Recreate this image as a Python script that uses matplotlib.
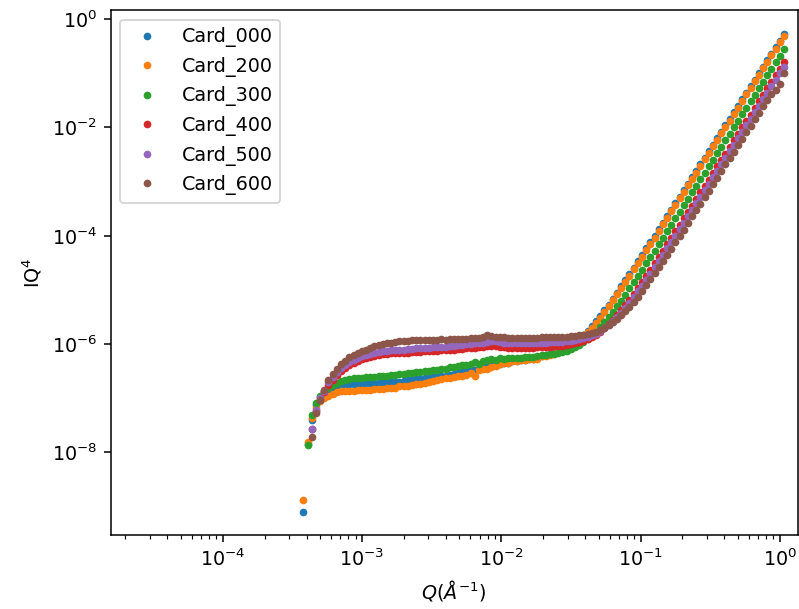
import numpy as np
import matplotlib
matplotlib.use("Agg")
import matplotlib.pyplot as plt

nan = np.nan

# scattering vector Q (1/Angstrom), shared by all cards
q = [3.80e-4, 4.07e-4, 4.37e-4, 4.68e-4, 5.01e-4, 5.37e-4, 5.75e-4, 6.17e-4, 6.61e-4, 7.08e-4,
     7.59e-4, 8.13e-4, 8.71e-4, 9.33e-4, 1.00e-3, 1.07e-3, 1.15e-3, 1.23e-3, 1.32e-3, 1.41e-3,
     1.51e-3, 1.62e-3, 1.74e-3, 1.86e-3, 2.00e-3, 2.14e-3, 2.29e-3, 2.45e-3, 2.63e-3, 2.82e-3,
     3.02e-3, 3.24e-3, 3.47e-3, 3.72e-3, 3.98e-3, 4.27e-3, 4.57e-3, 4.90e-3, 5.25e-3, 5.62e-3,
     6.03e-3, 6.46e-3, 6.92e-3, 7.41e-3, 7.94e-3, 8.51e-3, 9.12e-3, 9.77e-3, 1.05e-2, 1.12e-2,
     1.20e-2, 1.29e-2, 1.38e-2, 1.48e-2, 1.58e-2, 1.70e-2, 1.82e-2, 1.95e-2, 2.09e-2, 2.24e-2,
     2.40e-2, 2.57e-2, 2.75e-2, 2.95e-2, 3.16e-2, 3.39e-2, 3.63e-2, 3.89e-2, 4.17e-2, 4.47e-2,
     4.79e-2, 5.13e-2, 5.50e-2, 5.89e-2, 6.31e-2, 6.76e-2, 7.24e-2, 7.76e-2, 8.32e-2, 8.91e-2,
     9.55e-2, 1.02e-1, 1.10e-1, 1.17e-1, 1.26e-1, 1.35e-1, 1.45e-1, 1.55e-1, 1.66e-1, 1.78e-1,
     1.91e-1, 2.04e-1, 2.19e-1, 2.34e-1, 2.51e-1, 2.69e-1, 2.88e-1, 3.09e-1, 3.31e-1, 3.55e-1,
     3.80e-1, 4.07e-1, 4.37e-1, 4.68e-1, 5.01e-1, 5.37e-1, 5.75e-1, 6.17e-1, 6.61e-1, 7.08e-1,
     7.59e-1, 8.13e-1, 8.71e-1, 9.33e-1, 1.00, 1.07]

# I*Q^4 for each card
card_000 = [8.13e-10, 1.41e-8, 3.98e-8, 7.59e-8, 1.05e-7, 1.26e-7, 1.45e-7, 1.58e-7, 1.66e-7, 1.74e-7,
            1.78e-7, 1.82e-7, 1.82e-7, 1.86e-7, 1.86e-7, 1.91e-7, 1.91e-7, 1.95e-7, 1.95e-7, 2.00e-7,
            2.00e-7, 2.00e-7, 2.04e-7, 2.04e-7, 2.09e-7, 2.14e-7, 2.19e-7, 2.24e-7, 2.29e-7, 2.34e-7,
            2.40e-7, 2.45e-7, 2.51e-7, 2.57e-7, 2.63e-7, 2.75e-7, 2.82e-7, 2.95e-7, 3.02e-7, 3.16e-7,
            3.31e-7, 3.39e-7, 3.55e-7, 3.72e-7, 3.89e-7, 3.98e-7, 4.17e-7, 4.37e-7, 4.47e-7, 4.57e-7,
            4.79e-7, 4.90e-7, 5.01e-7, 5.13e-7, 5.25e-7, 5.37e-7, 5.50e-7, 6.08e-7, 6.26e-7, 6.51e-7,
            6.82e-7, 7.25e-7, 7.80e-7, 8.53e-7, 9.50e-7, 1.08e-6, 1.25e-6, 1.47e-6, 1.76e-6, 2.14e-6,
            2.65e-6, 3.32e-6, 4.20e-6, 5.36e-6, 6.89e-6, 8.91e-6, 1.16e-5, 1.51e-5, 1.97e-5, 2.58e-5,
            3.38e-5, 4.44e-5, 5.84e-5, 7.68e-5, 1.01e-4, 1.33e-4, 1.75e-4, 2.30e-4, 3.03e-4, 4.00e-4,
            5.27e-4, 6.95e-4, 9.16e-4, 1.21e-3, 1.59e-3, 2.10e-3, 2.77e-3, 3.65e-3, 4.81e-3, 6.34e-3,
            8.36e-3, 1.10e-2, 1.45e-2, 1.91e-2, 2.52e-2, 3.33e-2, 4.38e-2, 5.78e-2, 7.62e-2, 1.00e-1,
            1.32e-1, 1.75e-1, 2.30e-1, 3.03e-1, 4.00e-1, 5.27e-1]

card_200 = [1.32e-9, 1.58e-8, 4.27e-8, 6.76e-8, 8.91e-8, 1.02e-7, 1.12e-7, 1.20e-7, 1.29e-7, 1.35e-7,
            1.38e-7, 1.38e-7, 1.35e-7, 1.41e-7, 1.41e-7, 1.45e-7, 1.41e-7, 1.48e-7, 1.51e-7, 1.51e-7,
            1.55e-7, 1.58e-7, 1.58e-7, 1.66e-7, 1.66e-7, 1.70e-7, 1.78e-7, 1.82e-7, 1.86e-7, 1.95e-7,
            2.00e-7, 2.09e-7, 2.19e-7, 2.24e-7, 2.34e-7, 2.40e-7, 2.51e-7, 2.57e-7, 2.63e-7, 2.69e-7,
            2.95e-7, 2.63e-7, 3.39e-7, 3.47e-7, 3.55e-7, 3.72e-7, 3.98e-7, 4.27e-7, 4.47e-7, 4.57e-7,
            4.79e-7, 4.90e-7, 5.01e-7, 5.13e-7, 5.25e-7, 5.37e-7, 5.37e-7, 5.94e-7, 6.11e-7, 6.33e-7,
            6.63e-7, 7.02e-7, 7.53e-7, 8.21e-7, 9.10e-7, 1.03e-6, 1.18e-6, 1.39e-6, 1.66e-6, 2.01e-6,
            2.48e-6, 3.10e-6, 3.91e-6, 4.99e-6, 6.40e-6, 8.27e-6, 1.07e-5, 1.40e-5, 1.82e-5, 2.39e-5,
            3.13e-5, 4.11e-5, 5.40e-5, 7.10e-5, 9.29e-5, 1.23e-4, 1.62e-4, 2.13e-4, 2.81e-4, 3.70e-4,
            4.88e-4, 6.43e-4, 8.48e-4, 1.12e-3, 1.47e-3, 1.94e-3, 2.56e-3, 3.37e-3, 4.45e-3, 5.86e-3,
            7.73e-3, 1.02e-2, 1.34e-2, 1.77e-2, 2.33e-2, 3.08e-2, 4.06e-2, 5.35e-2, 7.05e-2, 9.29e-2,
            1.23e-1, 1.62e-1, 2.13e-1, 2.81e-1, 3.70e-1, 4.88e-1]

card_300 = [nan, 1.38e-8, 4.90e-8, 8.13e-8, 1.12e-7, 1.38e-7, 1.58e-7, 1.78e-7, 1.95e-7, 2.09e-7,
            2.19e-7, 2.24e-7, 2.34e-7, 2.34e-7, 2.40e-7, 2.45e-7, 2.45e-7, 2.51e-7, 2.57e-7, 2.63e-7,
            2.63e-7, 2.69e-7, 2.75e-7, 2.82e-7, 2.82e-7, 2.88e-7, 2.95e-7, 3.02e-7, 3.09e-7, 3.16e-7,
            3.24e-7, 3.31e-7, 3.39e-7, 3.47e-7, 3.55e-7, 3.72e-7, 3.80e-7, 3.89e-7, 4.07e-7, 4.17e-7,
            4.37e-7, 4.68e-7, 4.27e-7, 4.90e-7, 5.01e-7, 5.25e-7, 5.13e-7, 5.50e-7, 5.37e-7, 5.50e-7,
            5.50e-7, 5.62e-7, 5.62e-7, 5.75e-7, 5.75e-7, 5.89e-7, 6.03e-7, 6.30e-7, 6.40e-7, 6.53e-7,
            6.70e-7, 6.92e-7, 7.21e-7, 7.59e-7, 8.10e-7, 8.77e-7, 9.65e-7, 1.08e-6, 1.23e-6, 1.44e-6,
            1.70e-6, 2.05e-6, 2.52e-6, 3.12e-6, 3.93e-6, 4.99e-6, 6.38e-6, 8.23e-6, 1.07e-5, 1.39e-5,
            1.81e-5, 2.36e-5, 3.09e-5, 4.06e-5, 5.34e-5, 7.01e-5, 9.23e-5, 1.21e-4, 1.59e-4, 2.10e-4,
            2.77e-4, 3.65e-4, 4.81e-4, 6.34e-4, 8.36e-4, 1.10e-3, 1.45e-3, 1.92e-3, 2.52e-3, 3.33e-3,
            4.39e-3, 5.78e-3, 7.63e-3, 1.01e-2, 1.33e-2, 1.75e-2, 2.30e-2, 3.03e-2, 4.00e-2, 5.28e-2,
            6.95e-2, 9.17e-2, 1.21e-1, 1.59e-1, 2.10e-1, 2.77e-1]

card_400 = [nan, nan, 2.69e-8, 5.75e-8, 9.33e-8, 1.29e-7, 1.78e-7, 2.19e-7, 2.69e-7, 3.16e-7,
            3.63e-7, 4.07e-7, 4.47e-7, 4.90e-7, 5.25e-7, 5.50e-7, 5.75e-7, 6.03e-7, 6.31e-7, 6.46e-7,
            6.61e-7, 6.76e-7, 6.76e-7, 6.76e-7, 6.92e-7, 6.92e-7, 7.08e-7, 7.24e-7, 7.24e-7, 7.41e-7,
            7.41e-7, 7.59e-7, 7.59e-7, 7.76e-7, 7.76e-7, 7.94e-7, 7.94e-7, 8.13e-7, 8.13e-7, 8.32e-7,
            8.32e-7, 8.51e-7, 8.71e-7, 8.91e-7, 9.12e-7, 9.33e-7, 9.12e-7, 8.91e-7, 8.71e-7, 8.51e-7,
            8.51e-7, 8.32e-7, 8.32e-7, 8.51e-7, 8.51e-7, 8.51e-7, 8.71e-7, 8.87e-7, 8.93e-7, 9.00e-7,
            9.10e-7, 9.22e-7, 9.39e-7, 9.61e-7, 9.90e-7, 1.03e-6, 1.08e-6, 1.14e-6, 1.23e-6, 1.35e-6,
            1.50e-6, 1.70e-6, 1.96e-6, 2.31e-6, 2.77e-6, 3.38e-6, 4.18e-6, 5.23e-6, 6.61e-6, 8.44e-6,
            1.09e-5, 1.40e-5, 1.82e-5, 2.37e-5, 3.10e-5, 4.06e-5, 5.33e-5, 6.99e-5, 9.19e-5, 1.20e-4,
            1.58e-4, 2.09e-4, 2.75e-4, 3.62e-4, 4.78e-4, 6.30e-4, 8.30e-4, 1.09e-3, 1.44e-3, 1.90e-3,
            2.51e-3, 3.30e-3, 4.36e-3, 5.74e-3, 7.57e-3, 9.98e-3, 1.32e-2, 1.73e-2, 2.29e-2, 3.01e-2,
            3.97e-2, 5.24e-2, 6.90e-2, 9.10e-2, 1.20e-1, 1.58e-1]

card_500 = [nan, nan, 2.69e-8, 6.03e-8, 1.00e-7, 1.38e-7, 2.00e-7, 2.51e-7, 3.09e-7, 3.63e-7,
            4.17e-7, 4.68e-7, 5.13e-7, 5.62e-7, 6.03e-7, 6.31e-7, 6.61e-7, 6.92e-7, 7.24e-7, 7.41e-7,
            7.59e-7, 7.76e-7, 7.76e-7, 7.94e-7, 7.94e-7, 8.13e-7, 8.13e-7, 8.32e-7, 8.32e-7, 8.51e-7,
            8.51e-7, 8.71e-7, 8.71e-7, 8.91e-7, 8.91e-7, 9.12e-7, 9.33e-7, 9.55e-7, 9.77e-7, 1.00e-6,
            1.02e-6, 1.05e-6, 1.05e-6, 1.07e-6, 1.10e-6, 1.12e-6, 1.12e-6, 1.10e-6, 1.07e-6, 1.07e-6,
            1.05e-6, 1.05e-6, 1.05e-6, 1.05e-6, 1.05e-6, 1.05e-6, 1.05e-6, 1.06e-6, 1.07e-6, 1.08e-6,
            1.08e-6, 1.09e-6, 1.11e-6, 1.13e-6, 1.15e-6, 1.18e-6, 1.22e-6, 1.28e-6, 1.35e-6, 1.45e-6,
            1.57e-6, 1.74e-6, 1.96e-6, 2.25e-6, 2.64e-6, 3.14e-6, 3.80e-6, 4.68e-6, 5.84e-6, 7.36e-6,
            9.37e-6, 1.20e-5, 1.55e-5, 2.01e-5, 2.62e-5, 3.42e-5, 4.47e-5, 5.86e-5, 7.69e-5, 1.01e-4,
            1.33e-4, 1.75e-4, 2.30e-4, 3.03e-4, 3.99e-4, 5.26e-4, 6.93e-4, 9.13e-4, 1.20e-3, 1.59e-3,
            2.09e-3, 2.75e-3, 3.63e-3, 4.79e-3, 6.31e-3, 8.32e-3, 1.10e-2, 1.45e-2, 1.91e-2, 2.51e-2,
            3.31e-2, 4.37e-2, 5.75e-2, 7.59e-2, 1.00e-1, 1.32e-1]

card_600 = [nan, nan, 1.95e-8, 5.37e-8, 9.33e-8, 1.41e-7, 2.19e-7, 2.82e-7, 3.55e-7, 4.27e-7,
            4.90e-7, 5.75e-7, 6.31e-7, 6.92e-7, 7.41e-7, 7.94e-7, 8.51e-7, 9.12e-7, 9.55e-7, 1.00e-6,
            1.05e-6, 1.07e-6, 1.10e-6, 1.12e-6, 1.15e-6, 1.15e-6, 1.17e-6, 1.17e-6, 1.20e-6, 1.20e-6,
            1.20e-6, 1.20e-6, 1.20e-6, 1.23e-6, 1.20e-6, 1.23e-6, 1.23e-6, 1.26e-6, 1.26e-6, 1.26e-6,
            1.29e-6, 1.29e-6, 1.32e-6, 1.38e-6, 1.45e-6, 1.41e-6, 1.38e-6, 1.35e-6, 1.35e-6, 1.32e-6,
            1.32e-6, 1.32e-6, 1.29e-6, 1.29e-6, 1.29e-6, 1.32e-6, 1.32e-6, 1.33e-6, 1.33e-6, 1.34e-6,
            1.34e-6, 1.35e-6, 1.36e-6, 1.38e-6, 1.40e-6, 1.42e-6, 1.45e-6, 1.49e-6, 1.55e-6, 1.62e-6,
            1.71e-6, 1.84e-6, 2.00e-6, 2.22e-6, 2.51e-6, 2.89e-6, 3.39e-6, 4.04e-6, 4.91e-6, 6.05e-6,
            7.56e-6, 9.54e-6, 1.22e-5, 1.56e-5, 2.02e-5, 2.62e-5, 3.41e-5, 4.45e-5, 5.82e-5, 7.63e-5,
            1.00e-4, 1.30e-4, 1.72e-4, 2.27e-4, 2.99e-4, 3.94e-4, 5.19e-4, 6.84e-4, 9.02e-4, 1.19e-3,
            1.57e-3, 2.07e-3, 2.72e-3, 3.59e-3, 4.73e-3, 6.24e-3, 8.22e-3, 1.08e-2, 1.43e-2, 1.88e-2,
            2.48e-2, 3.27e-2, 4.20e-2, 5.00e-2, 6.20e-2, 1.00e-1]

labels = ["Card_000", "Card_200", "Card_300", "Card_400", "Card_500", "Card_600"]
series = [card_000, card_200, card_300, card_400, card_500, card_600]

DPI = 138
fig = plt.figure(figsize=(799 / DPI, 609 / DPI), dpi=DPI)
ax = fig.add_axes([0.1385, 0.1215, 0.8602, 0.8621])

for name, vals in zip(labels, series):
    ax.plot(q, vals, ".", label=name)

ax.set_xscale("log")
ax.set_yscale("log")
ax.set_xlim(1.57e-5, 1.35)
ax.set_ylim(3.0e-10, 1.47)
ax.set_xlabel(r"$Q(\AA^{-1})$")
ax.set_ylabel("IQ$^4$")
ax.legend(loc="upper left")

fig.savefig("out.png", dpi=DPI)
